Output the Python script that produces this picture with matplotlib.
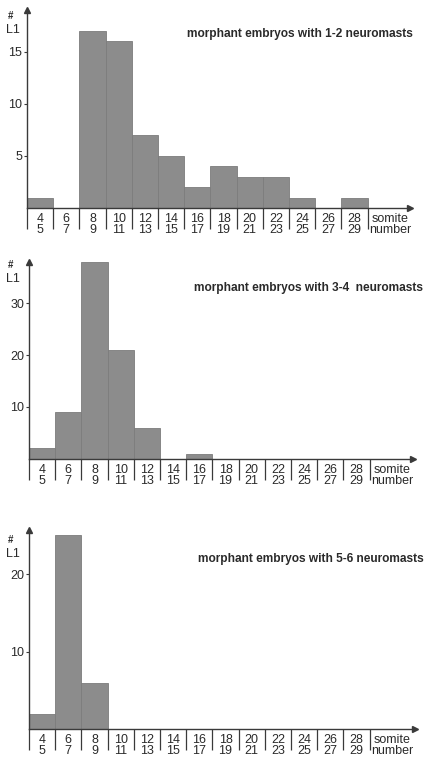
import numpy as np
import matplotlib
matplotlib.use("Agg")
import matplotlib.pyplot as plt

plt.rcParams["font.family"] = ["Liberation Sans", "DejaVu Sans"]

# somite bins (pairs) and counts of L1 primordium stop position
bin_top = ["4", "6", "8", "10", "12", "14", "16", "18", "20", "22", "24", "26", "28"]
bin_bottom = ["5", "7", "9", "11", "13", "15", "17", "19", "21", "23", "25", "27", "29"]
counts_12 = [1, 0, 17, 16, 7, 5, 2, 4, 3, 3, 1, 0, 1]
counts_34 = [2, 9, 38, 21, 6, 0, 1, 0, 0, 0, 0, 0, 0]
counts_56 = [2, 25, 6, 0, 0, 0, 0, 0, 0, 0, 0, 0, 0]
titles = ["morphant embryos with 1-2 neuromasts",
          "morphant embryos with 3-4  neuromasts",
          "morphant embryos with 5-6 neuromasts"]
yticks = [[5, 10, 15], [10, 20, 30], [10, 20]]

W, H = 426, 761
fig = plt.figure(figsize=(W / 100, H / 100), dpi=100)

BAR = "#8c8c8c"
EDGE = "#7c7c7c"
AXC = "#3a3a3a"
TXT = "#2a2a2a"
bin_px = 26.2

# left px, baseline px, top px, ymax, right px, title right px, title y px, "#" y px
panels = [
    (27, 208, 10, 19.0, 410, 413, 34, 16),
    (29, 458.7, 262, 38.0, 413, 423, 288, 265),
    (29, 729, 530, 25.7, 415, 424, 559, 540),
]

for counts, title, yt, (l, b, t, ymax, r, tr, ty, hy) in zip(
        [counts_12, counts_34, counts_56], titles, yticks, panels):
    ax = fig.add_axes([l / W, 1 - b / H, (r - l) / W, (b - t) / H])
    n = len(counts)
    ax.bar(np.arange(n), counts, width=1.0, align="edge", color=BAR,
           edgecolor=EDGE, linewidth=0.6)
    ax.set_xlim(0, (r - l) / bin_px)
    ax.set_ylim(0, ymax)
    for s in ["top", "right"]:
        ax.spines[s].set_visible(False)
    for s in ["left", "bottom"]:
        ax.spines[s].set_color(AXC)
        ax.spines[s].set_linewidth(1.0)
    ax.plot(1, 0, ">", color=AXC, ms=4, transform=ax.transAxes, clip_on=False)
    ax.plot(0, 1, "^", color=AXC, ms=4, transform=ax.transAxes, clip_on=False)

    # separators below the axis as major ticks, labels on minor ticks
    ax.set_xticks(np.arange(n + 1))
    ax.set_xticklabels([])
    ax.tick_params(axis="x", which="major", direction="out", length=15,
                   width=0.9, color=AXC)
    labels = [f"{a}\n{c}" for a, c in zip(bin_top, bin_bottom)] + ["somite\nnumber"]
    ax.set_xticks(list(np.arange(n) + 0.5) + [13.85], minor=True)
    ax.set_xticklabels(labels, minor=True, fontsize=9, color=TXT,
                       linespacing=0.95)
    ax.tick_params(axis="x", which="minor", length=0, pad=3.5)

    ax.set_yticks(yt)
    ax.set_yticklabels([str(v) for v in yt], fontsize=9, color=TXT)
    ax.tick_params(axis="y", direction="out", length=2.5, width=0.8,
                   color=AXC, pad=1)

    fig.text(tr / W, 1 - ty / H, title, ha="right", va="center",
             fontsize=8.6, fontweight="bold", color=TXT)
    fig.text(11 / W, 1 - hy / H, "#", ha="center", va="center",
             fontsize=7, fontweight="bold", color=TXT)
    fig.text(13 / W, 1 - (hy + 14) / H, "L1", ha="center", va="center",
             fontsize=9, color=TXT)

fig.savefig("out.png", dpi=100)
